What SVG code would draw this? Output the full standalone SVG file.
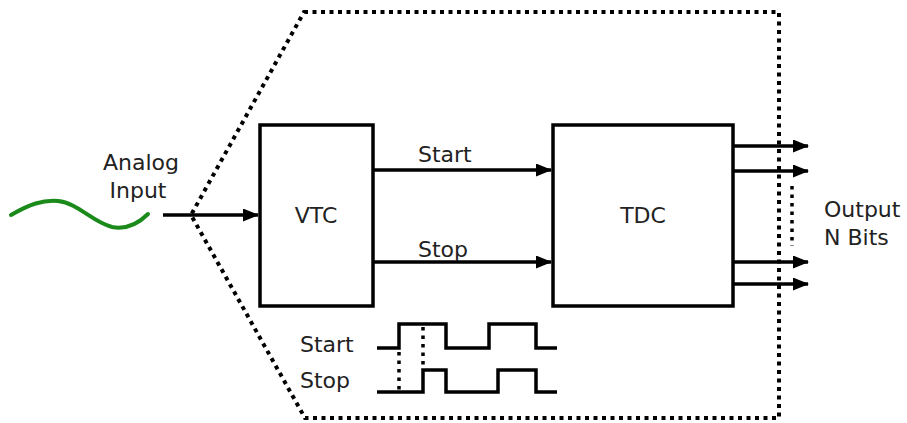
<svg xmlns="http://www.w3.org/2000/svg" width="907" height="423" viewBox="0 0 907 423">
<defs>
<marker id="ah" markerWidth="16" markerHeight="13" refX="15" refY="6.5" orient="auto" markerUnits="userSpaceOnUse">
<path d="M0,0 L16,6.5 L0,13 Z" fill="#000"/>
</marker>
<style>
.box{fill:#fff;stroke:#000;stroke-width:3.5}
.ln{fill:none;stroke:#000;stroke-width:3.5}
.wire{fill:none;stroke:#000;stroke-width:3.5;marker-end:url(#ah)}
.dot{fill:none;stroke:#000;stroke-width:4;stroke-dasharray:4 4.5}
.sdot{fill:none;stroke:#000;stroke-width:3.5;stroke-dasharray:3.5 5}
text{font-family:"DejaVu Sans","Liberation Sans",sans-serif;font-size:22px;fill:#222}
</style>
</defs>
<rect width="907" height="423" fill="#fff"/>
<g id="boundary">
<path class="dot" d="M304,12 L779,12 L779,418 L305,418 L191,215 Z"/>
</g>
<g id="analog-input">
<path d="M11,215 C30,204 42,200 58,201 C78,203 92,222 112,227 C128,230 140,222 148,214" fill="none" stroke="#1a8a1a" stroke-width="4" stroke-linecap="round"/>
<text x="141" y="170" text-anchor="middle">Analog</text>
<text x="138" y="198" text-anchor="middle">Input</text>
</g>
<g id="connectors">
<line class="wire" x1="163" y1="215" x2="258" y2="215"/>
<line class="wire" x1="373" y1="170" x2="551" y2="170"/>
<line class="wire" x1="373" y1="262" x2="551" y2="262"/>
<line class="wire" x1="733" y1="146" x2="808" y2="146"/>
<line class="wire" x1="733" y1="171" x2="808" y2="171"/>
<line class="wire" x1="733" y1="262" x2="808" y2="262"/>
<line class="wire" x1="733" y1="284" x2="808" y2="284"/>
<line class="sdot" x1="792" y1="186" x2="792" y2="246"/>
<text x="418" y="162">Start</text>
<text x="418" y="257">Stop</text>
</g>
<g id="vtc">
<rect class="box" x="260" y="125" width="113" height="181"/>
<text x="316" y="223" text-anchor="middle">VTC</text>
</g>
<g id="tdc">
<rect class="box" x="553" y="125" width="180" height="181"/>
<text x="643" y="223" text-anchor="middle">TDC</text>
</g>
<g id="output">
<text x="824" y="217">Output</text>
<text x="824" y="245">N Bits</text>
</g>
<g id="timing">
<text x="300" y="352">Start</text>
<text x="300" y="388">Stop</text>
<path class="ln" d="M377,348 H399 V324 H446 V348 H489 V324 H536 V348 H557"/>
<path class="ln" d="M377,392 H423 V370 H446 V392 H498 V370 H536 V392 H557"/>
<line class="sdot" x1="399" y1="352" x2="399" y2="392"/>
<line class="sdot" x1="423" y1="327" x2="423" y2="370"/>
</g>
</svg>
